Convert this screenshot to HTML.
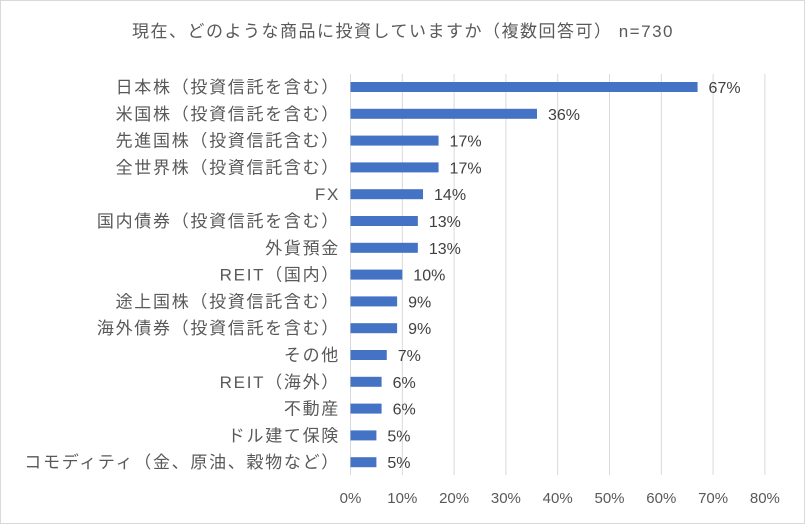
<!DOCTYPE html>
<html><head><meta charset="utf-8"><style>
body{margin:0;background:#fff;}
svg{display:block;font-family:"Liberation Sans","Noto Sans CJK JP",sans-serif;}
</style></head><body>
<svg id="chart" width="805" height="524">
<rect x="0.5" y="0.5" width="804" height="523" fill="#fff" stroke="#d9d9d9"/>
<text x="403" y="37" text-anchor="middle" font-size="17" letter-spacing="1.5" fill="#595959">現在、どのような商品に投資していますか（複数回答可） n=730</text>
<g id="grid"></g><g id="bars"></g><g id="labels"></g>
</svg>
<script>
const categories=["日本株（投資信託を含む）","米国株（投資信託を含む）","先進国株（投資信託含む）","全世界株（投資信託含む）","FX","国内債券（投資信託を含む）","外貨預金","REIT（国内）","途上国株（投資信託含む）","海外債券（投資信託を含む）","その他","REIT（海外）","不動産","ドル建て保険","コモディティ（金、原油、穀物など）"];
const values=[67,36,17,17,14,13,13,10,9,9,7,6,6,5,5];
const ticks=[0,10,20,30,40,50,60,70,80];
const ns="http://www.w3.org/2000/svg";
const x0=350.5,pxPer=5.18,yTop=74,yBot=475,y0=87,step=26.8,bh=10;
const xs=v=>x0+v*pxPer;
const ys=i=>y0+i*step;
const g=document.getElementById('grid'),b=document.getElementById('bars'),l=document.getElementById('labels');
function mk(t,a){const e=document.createElementNS(ns,t);for(const k in a)e.setAttribute(k,a[k]);return e;}
ticks.forEach(t=>{
 const ln=mk('line',{x1:xs(t),x2:xs(t),y1:yTop,y2:yBot,stroke:'#d9d9d9','stroke-width':1});
 
 
 g.appendChild(ln);
 const tx=mk('text',{x:xs(t),y:503,'text-anchor':'middle','font-size':15,fill:'#595959'});
 tx.textContent=t+'%';
 
 
 l.appendChild(tx);
});
categories.forEach((c,i)=>{
 const r=mk('rect',{x:xs(0),y:ys(i)-bh/2,width:xs(values[i])-xs(0),height:bh,fill:'#4472C4'});
 
 
 b.appendChild(r);
 const ct=mk('text',{x:340,y:ys(i)+6,'text-anchor':'end','font-size':17,'letter-spacing':1.7,fill:'#595959'});
 ct.textContent=c;
 
 
 l.appendChild(ct);
 const vt=mk('text',{x:xs(values[i])+11,y:ys(i)+6,'font-size':16,fill:'#404040'});
 vt.textContent=values[i]+'%';
 
 
 l.appendChild(vt);
});
</script>
</body></html>
